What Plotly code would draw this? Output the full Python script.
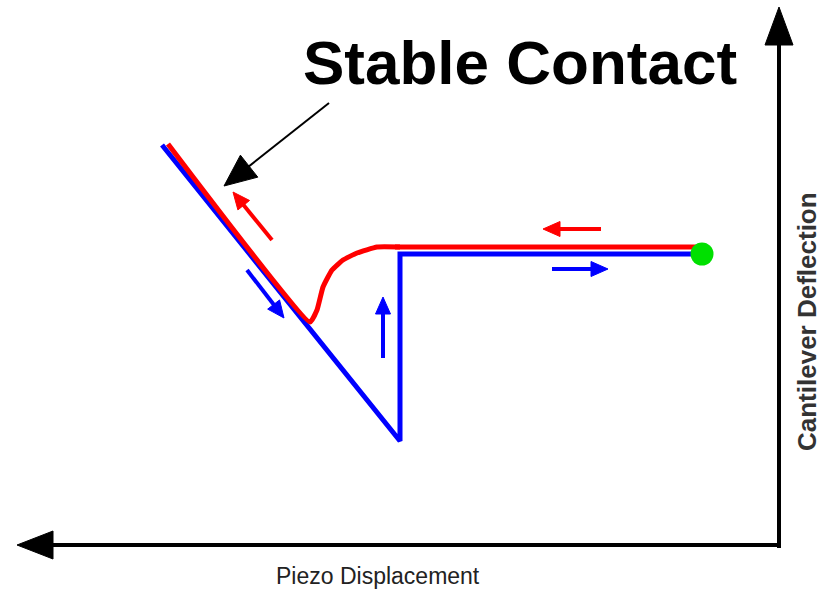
import numpy as np
import plotly.graph_objects as go

# diagram drawn in pixel space of an 824 x 590 canvas (y grows downward)
W, H = 824, 590

# approach curve (blue): contact line, snap-in jump, free line
blue_x = [162, 400, 400, 700]
blue_y = [145, 441, 254, 254]

# retract curve (red): contact line, pull-off bump, then the free line
red_x = [168, 310, 317, 323, 332, 343, 357, 377, 400]
red_y = [144, 322, 310, 287, 270, 260, 253, 247, 247]
red_free_x = [395, 700]
red_free_y = [247, 247]

start_point = (702, 254)

# arrows as (tail, tip)
small_arrows = {
    "red_up": ((272, 240), (233, 192), "#ff0000"),
    "blue_down": ((247, 270), (284, 318), "#0000ff"),
    "blue_up": ((383, 358), (383, 297), "#0000ff"),
    "red_left": ((601, 229), (543, 229), "#ff0000"),
    "blue_right": ((552, 269), (608, 269), "#0000ff"),
}
pointer = ((329, 103), (224, 186))
x_axis_arrow = ((781, 545), (17, 545))
y_axis_arrow = ((779, 548), (779, 7))

title_text = "Stable Contact"
x_label = "Piezo Displacement"
y_label = "Cantilever Deflection"

fig = go.Figure()


def arrow(tail, tip, color, lw, hl, hw):
    t = np.array(tail, float)
    p = np.array(tip, float)
    d = (p - t) / np.linalg.norm(p - t)
    n = np.array([-d[1], d[0]])
    base = p - d * hl
    stop = p - d * hl * 0.7
    fig.add_trace(go.Scatter(x=[t[0], stop[0]], y=[t[1], stop[1]], mode="lines",
                             line=dict(color=color, width=lw), hoverinfo="skip"))
    tri = [p, base + n * hw / 2, base - n * hw / 2, p]
    fig.add_trace(go.Scatter(x=[q[0] for q in tri], y=[q[1] for q in tri], mode="lines",
                             fill="toself", fillcolor=color,
                             line=dict(color=color, width=1), hoverinfo="skip"))


# axes
arrow(*x_axis_arrow, "#000000", 4, 36, 28)
arrow(*y_axis_arrow, "#000000", 4, 38, 28)

# curves
fig.add_trace(go.Scatter(x=blue_x, y=blue_y, mode="lines",
                         line=dict(color="#0000ff", width=5)))
fig.add_trace(go.Scatter(x=red_x, y=red_y, mode="lines",
                         line=dict(color="#ff0000", width=5, shape="spline", smoothing=0.4)))
fig.add_trace(go.Scatter(x=red_free_x, y=red_free_y, mode="lines",
                         line=dict(color="#ff0000", width=5)))
fig.add_trace(go.Scatter(x=[start_point[0]], y=[start_point[1]], mode="markers",
                         marker=dict(color="#00e000", size=23)))

for tail, tip, col in small_arrows.values():
    arrow(tail, tip, col, 4, 17, 15)

arrow(*pointer, "#000000", 2, 32, 28)

fig.add_annotation(x=520, y=62, text=title_text, showarrow=False,
                   font=dict(family="Liberation Sans, Arial", size=62, color="#000000", weight="bold"))
fig.add_annotation(x=378, y=576, text=x_label, showarrow=False,
                   font=dict(family="Liberation Sans, Arial", size=23, color="#222222"))
fig.add_annotation(x=807, y=322, text=y_label, showarrow=False, textangle=-90,
                   font=dict(family="Liberation Sans, Arial", size=26, color="#333333", weight="bold"))

fig.update_layout(
    width=W, height=H,
    margin=dict(l=0, r=0, t=0, b=0),
    showlegend=False,
    paper_bgcolor="white", plot_bgcolor="white",
    xaxis=dict(range=[0, W], visible=False, fixedrange=True),
    yaxis=dict(range=[H, 0], visible=False, fixedrange=True),
)

# drop the default page margin so the canvas sits at the window's corner
fig.write_html("out.html", config={"displayModeBar": False},
               post_script="document.body.style.margin='0';")
